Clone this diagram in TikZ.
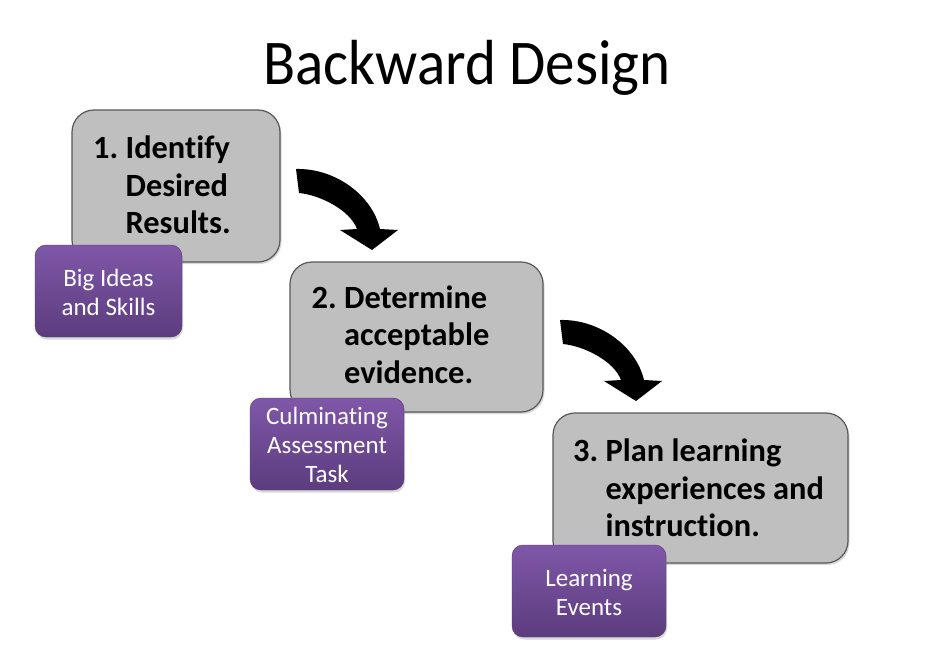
\documentclass[tikz,border=0pt]{standalone}
\usepackage{fontspec}
\setmainfont{Carlito}[Ligatures=NoCommon]
\usetikzlibrary{shadows}
\definecolor{boxgray}{RGB}{191,191,191}
\definecolor{boxedge}{RGB}{88,88,88}
\definecolor{purptop}{RGB}{127,87,168}
\definecolor{purpbot}{RGB}{92,60,126}
\tikzset{
  graybox/.style={draw=boxedge, line width=1.2pt, fill=boxgray, rounded corners=22pt,
    inner sep=0pt, drop shadow={opacity=0.3, shadow xshift=1.5pt, shadow yshift=-2pt}},
  purplebox/.style={draw=purpbot!90!black, line width=0.4pt, top color=purptop, bottom color=purpbot,
    rounded corners=11pt, inner sep=0pt, minimum height=92pt,
    drop shadow={opacity=0.3, shadow xshift=1pt, shadow yshift=-2.5pt}},
  steptext/.style={anchor=base west, inner sep=0pt, text=black,
    font=\fontsize{32.4}{37.5}\selectfont\bfseries},
  purptext/.style={anchor=base, inner sep=0pt, text=white,
    font=\fontsize{25}{29}\selectfont},
  bendarrow/.pic={
    \fill[black] (0,0) .. controls (39,-1) and (76,26) .. (84,60) -- (102,61) -- (76,81)
      -- (44,61) -- (61,60) .. controls (54,41) and (24,26) .. (3,24) -- cycle;
  }
}
\begin{document}
\begin{tikzpicture}[x=1pt,y=-1pt]
\useasboundingbox[fill=white] (0,0) rectangle (931,653);

\node[anchor=base, inner sep=0pt, font=\fontsize{59}{70}\selectfont] (title) at (467,84) {\scalebox{1}[1.08]{Backward Design}};

% step 1
\node[graybox, minimum width=208pt, minimum height=152pt] (box1) at (176,186) {};
\node[steptext] (t1) at (93,158.5) {\begin{tabular}[t]{@{}l@{\ }l@{}}1.& Identify\\ & Desired\\ & Results.\end{tabular}};
\node[purplebox, minimum width=147pt] (p1) at (108.5,291) {};
\node[purptext] (q1) at (108.5,286.5) {\begin{tabular}[t]{@{}c@{}}Big Ideas\\ and Skills\end{tabular}};

% step 2
\node[graybox, minimum width=253pt, minimum height=150pt] (box2) at (416.5,337) {};
\node[steptext] (t2) at (311.5,308) {\begin{tabular}[t]{@{}l@{\ }l@{}}2.& Determine\\ & acceptable\\ & evidence.\end{tabular}};
\node[purplebox, minimum width=154pt] (p2) at (327,444) {};
\node[purptext] (q2) at (327,424) {\begin{tabular}[t]{@{}c@{}}Culminating\\ Assessment\\ Task\end{tabular}};

% step 3
\node[graybox, minimum width=295pt, minimum height=150pt] (box3) at (700.5,488) {};
\node[steptext] (t3) at (573,461.5) {\begin{tabular}[t]{@{}l@{\ }l@{}}3.& Plan learning\\ & experiences and\\ & instruction.\end{tabular}};
\node[purplebox, minimum width=154pt] (p3) at (589,591) {};
\node[purptext] (q3) at (589,586.5) {\begin{tabular}[t]{@{}c@{}}Learning\\ Events\end{tabular}};

% curved block arrows
\pic at (296,169) {bendarrow};
\pic at (560,320) {bendarrow};
\end{tikzpicture}
\end{document}
